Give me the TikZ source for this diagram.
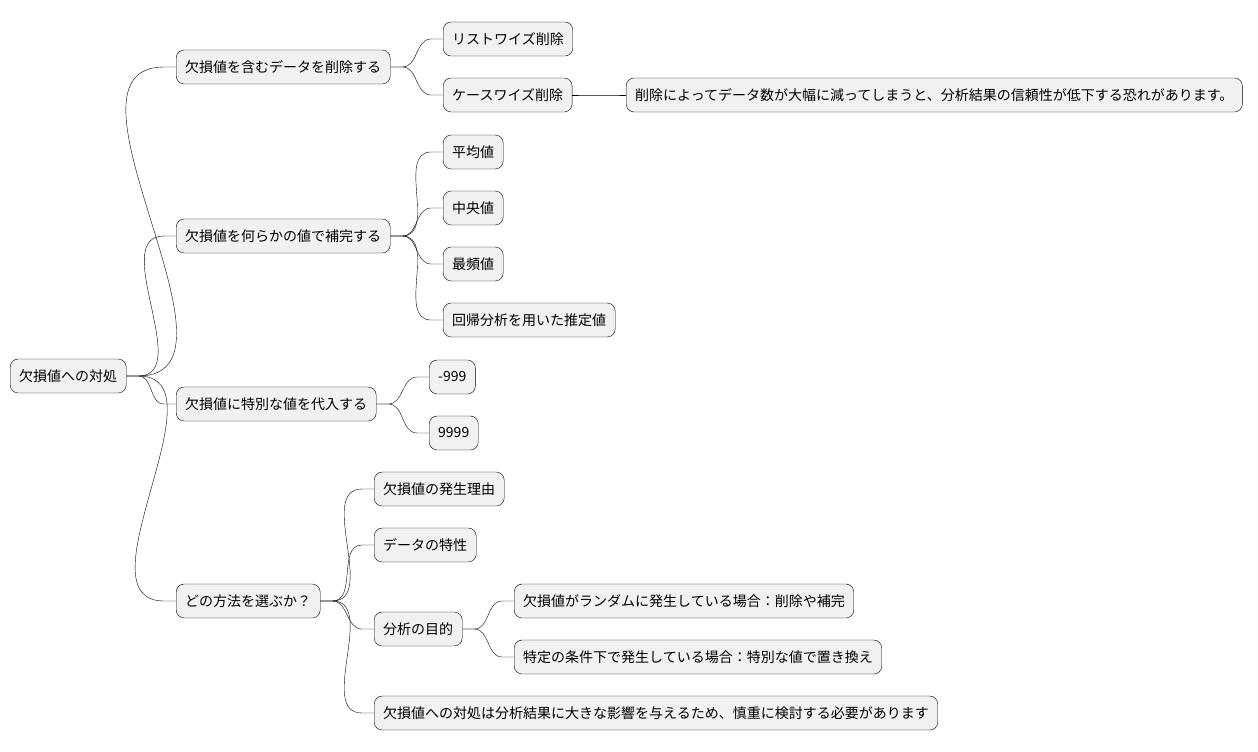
\documentclass[tikz,border=0pt]{standalone}
\usepackage{fontspec}
\setmainfont{Noto Sans CJK JP}
\begin{document}
\begin{tikzpicture}[x=1pt,y=-1pt,semithick,
  box/.style={draw,thin,rounded corners=8pt,fill=boxgray,anchor=west,minimum height=34pt,inner xsep=9pt,font=\fontsize{14}{16}\selectfont},
  link/.style={draw,thin}]
 \definecolor{boxgray}{HTML}{F1F1F1}
 \useasboundingbox (0,0) rectangle (1258,752);
 \node[box] (root) at (10,376) {欠損値への対処};
 \node[box] (del)  at (176,67)  {欠損値を含むデータを削除する};
 \node[box] (list) at (443,39)  {リストワイズ削除};
 \node[box] (case) at (443,95)  {ケースワイズ削除};
 \node[box] (warn) at (626,95)  {削除によってデータ数が大幅に減ってしまうと、分析結果の信頼性が低下する恐れがあります。};
 \node[box] (imp)  at (176,236) {欠損値を何らかの値で補完する};
 \node[box] (mean) at (443,152) {平均値};
 \node[box] (med)  at (443,208) {中央値};
 \node[box] (mode) at (443,264) {最頻値};
 \node[box] (reg)  at (443,320) {回帰分析を用いた推定値};
 \node[box] (spec) at (176,404) {欠損値に特別な値を代入する};
 \node[box] (m999) at (429,377) {-999};
 \node[box] (p999) at (429,433) {9999};
 \node[box] (how)  at (176,601) {どの方法を選ぶか？};
 \node[box] (why)  at (374,489) {欠損値の発生理由};
 \node[box] (feat) at (374,545) {データの特性};
 \node[box] (goal) at (374,629) {分析の目的};
 \node[box] (rand) at (514,601) {欠損値がランダムに発生している場合：削除や補完};
 \node[box] (cond) at (514,657) {特定の条件下で発生している場合：特別な値で置き換え};
 \node[box] (note) at (374,713) {欠損値への対処は分析結果に大きな影響を与えるため、慎重に検討する必要があります};

 \foreach \a/\b in {root/del,root/imp,root/spec,root/how,del/list,del/case,case/warn,
   imp/mean,imp/med,imp/mode,imp/reg,spec/m999,spec/p999,
   how/why,how/feat,how/goal,how/note,goal/rand,goal/cond}
   \draw[link] (\a.east) -- ++(12,0) to[out=0,in=180] ([xshift=-12pt]\b.west) -- (\b.west);
\end{tikzpicture}
\end{document}
